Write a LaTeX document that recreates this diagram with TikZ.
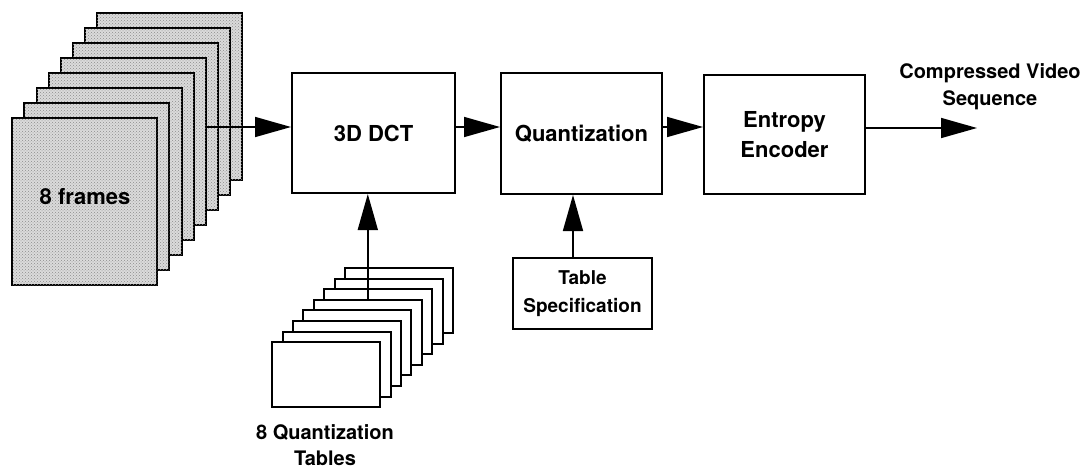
\documentclass[tikz,border=0pt]{standalone}
\usepackage{fontspec}
\setmainfont{TeX Gyre Heros}
\usetikzlibrary{arrows.meta,patterns}
\begin{document}
\begin{tikzpicture}[x=1pt,y=-1pt,
  box/.style={draw,line width=2pt,rectangle,inner sep=0pt,font=\fontsize{22}{30}\selectfont\bfseries,align=center},
  frame/.style={draw,line width=2pt,fill=black!14,postaction={pattern=crosshatch dots,pattern color=black!45},minimum width=145pt,minimum height=167pt,inner sep=0pt},
  qtab/.style={draw,line width=2pt,fill=white,minimum width=108pt,minimum height=65pt,inner sep=0pt},
  arr/.style={line width=1.6pt,-{Triangle[length=36pt,width=20pt]}},
  lbl/.style={font=\fontsize{20}{26}\selectfont\bfseries,align=center}]
\useasboundingbox (0,0) rectangle (1085,469);
% frames
\foreach \i in {1,...,8}
  \node[frame] (fr\i) at ({169.5-(\i-1)*12.1},{96.5+(\i-1)*15}) {};
\node[lbl,font=\fontsize{22}{26}\selectfont\bfseries] (frl) at (85,197) {8 frames};
% quantization tables
\foreach \i in {1,...,8}
  \node[qtab] (qt\i) at ({399-(\i-1)*10.4},{300.5+(\i-1)*10.6}) {};
\node[lbl] (qtl) at (325,445) {8 Quantization\\Tables};
% boxes
\node[box,minimum width=163pt,minimum height=120pt] (dct) at (373.5,133) {3D DCT};
\node[box,minimum width=161pt,minimum height=121pt] (quant) at (581.5,133.5) {Quantization};
\node[box,minimum width=161pt,minimum height=119pt] (ent) at (784.5,134.5) {Entropy\\Encoder};
\node[box,minimum width=139pt,minimum height=71pt,font=\fontsize{19}{28}\selectfont\bfseries] (tspec) at (582.5,293.5) {Table\\Specification};
\node[lbl,font=\fontsize{20}{27}\selectfont\bfseries] (outl) at (990,86.5) {Compressed Video\\Sequence};
% helper coordinates
\coordinate (ay) at (0,127);
\coordinate (tx) at (573,0);
\coordinate (out) at (977,128);
% connectors
\draw[arr] (fr4.east |- ay) -- (dct.west |- ay);
\draw[arr] (dct.east |- ay) -- (quant.west |- ay);
\draw[arr] (quant.east |- ay) -- (ent.west |- ay);
\draw[arr] (ent.east |- out) -- (out);
\draw[arr] (qt4.north) -- (qt4.north |- dct.south);
\draw[arr] (tspec.north -| tx) -- (quant.south -| tx);
\end{tikzpicture}
\end{document}
